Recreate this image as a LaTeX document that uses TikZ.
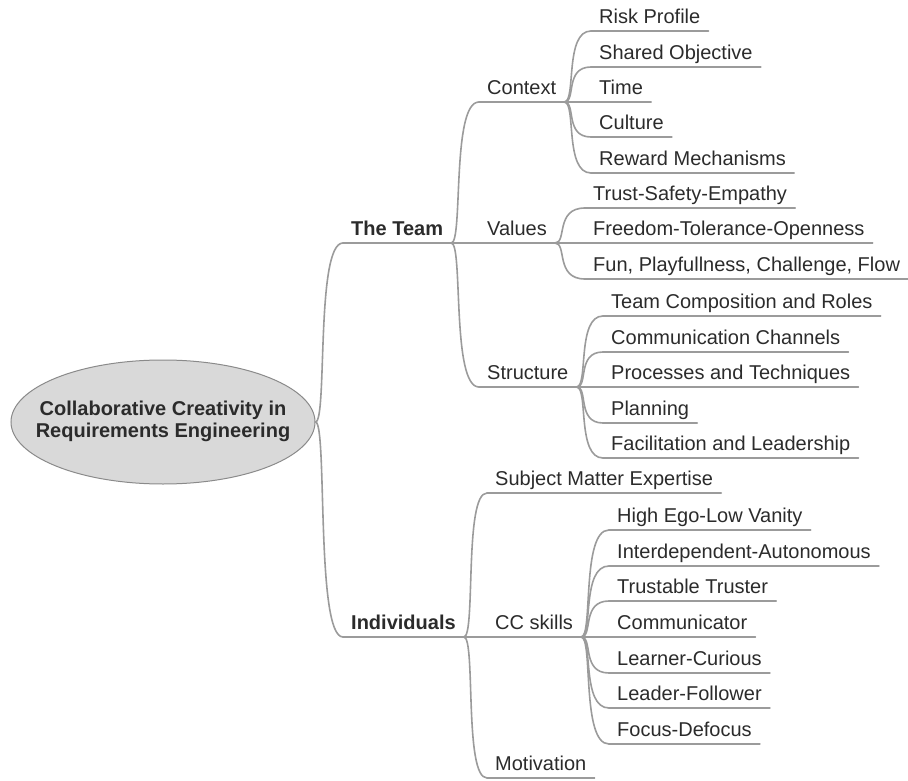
\documentclass[tikz,border=0pt]{standalone}
\usepackage{fontspec}
\setmainfont{Liberation Sans}
\usetikzlibrary{shapes.geometric}
\definecolor{linegray}{HTML}{9B9B9B}
\definecolor{rimgray}{HTML}{8A8A8A}
\definecolor{bubble}{HTML}{D9D9D9}
\definecolor{ink}{HTML}{2B2B2B}
% curved connector from the end of a parent's underline to the start of a child's
\newcommand\branch[2]{\draw[conn] (#1.south east) .. controls ([xshift=12pt]#1.south east) and (#1.south east |- #2.south west) .. (#2.south west);}
\begin{document}
\begin{tikzpicture}[x=1pt,y=-1pt,
  conn/.style={draw=linegray, line width=1.6pt, line cap=round},
  topic/.style={anchor=south west, inner xsep=8pt, inner ysep=0pt,
    text height=15pt, text depth=7pt, text=ink,
    font=\fontsize{20}{24}\selectfont},
  major/.style={topic, font=\fontsize{20}{24}\selectfont\bfseries},
  rootnode/.style={ellipse, draw=rimgray, line width=1pt, fill=bubble,
    minimum width=304pt, minimum height=124pt, inner sep=0pt,
    text=ink, font=\fontsize{20}{24}\selectfont\bfseries}]
\useasboundingbox (0,0) rectangle (908,781);

% central bubble; the title is boxed to zero width so the ellipse keeps its set size
\node[rootnode] (root) at (163,422)
  {\makebox[0pt]{\begin{tabular}{@{}c@{}}Collaborative Creativity in\\[-2pt]Requirements Engineering\end{tabular}}};

% first level
\node[major] (team) at (343,243) {The Team};
\node[major] (ind)  at (343,637) {Individuals};

% second level
\node[topic] (ctx) at (479,102) {Context};
\node[topic] (val) at (479,243) {Values};
\node[topic] (str) at (479,387) {Structure};
\node[topic] (sme) at (487,493) {Subject Matter Expertise};
\node[topic] (ccs) at (487,637) {CC skills};
\node[topic] (mot) at (487,778) {Motivation};

% context
\node[topic] (c1) at (591,31)  {Risk Profile};
\node[topic] (c2) at (591,67)  {Shared Objective};
\node[topic] (c3) at (591,102) {Time};
\node[topic] (c4) at (591,137) {Culture};
\node[topic] (c5) at (591,173) {Reward Mechanisms};

% values
\node[topic] (v1) at (585,208) {Trust-Safety-Empathy};
\node[topic] (v2) at (585,243) {Freedom-Tolerance-Openness};
\node[topic] (v3) at (585,279) {Fun, Playfullness, Challenge, Flow};

% structure
\node[topic] (s1) at (603,316) {Team Composition and Roles};
\node[topic] (s2) at (603,352) {Communication Channels};
\node[topic] (s3) at (603,387) {Processes and Techniques};
\node[topic] (s4) at (603,423) {Planning};
\node[topic] (s5) at (603,458) {Facilitation and Leadership};

% CC skills
\node[topic] (k1) at (609,530) {High Ego-Low Vanity};
\node[topic] (k2) at (609,566) {Interdependent-Autonomous};
\node[topic] (k3) at (609,601) {Trustable Truster};
\node[topic] (k4) at (609,637) {Communicator};
\node[topic] (k5) at (609,673) {Learner-Curious};
\node[topic] (k6) at (609,708) {Leader-Follower};
\node[topic] (k7) at (609,744) {Focus-Defocus};

% underlines
\foreach \n in {team,ind,ctx,val,str,sme,ccs,mot,c1,c2,c3,c4,c5,v1,v2,v3,
                s1,s2,s3,s4,s5,k1,k2,k3,k4,k5,k6,k7}
  \draw[conn] (\n.south west) -- (\n.south east);

% connectors from the central bubble
\foreach \c in {team,ind}
  \draw[conn] (root.east) .. controls ([xshift=12pt]root.east) and (root.east |- \c.south west) .. (\c.south west);

% connectors between topics
\foreach \p/\c in {team/ctx,team/val,team/str,ind/sme,ind/ccs,ind/mot,
                   ctx/c1,ctx/c2,ctx/c3,ctx/c4,ctx/c5,val/v1,val/v2,val/v3,
                   str/s1,str/s2,str/s3,str/s4,str/s5,
                   ccs/k1,ccs/k2,ccs/k3,ccs/k4,ccs/k5,ccs/k6,ccs/k7}
  {\branch{\p}{\c}}
\end{tikzpicture}
\end{document}
